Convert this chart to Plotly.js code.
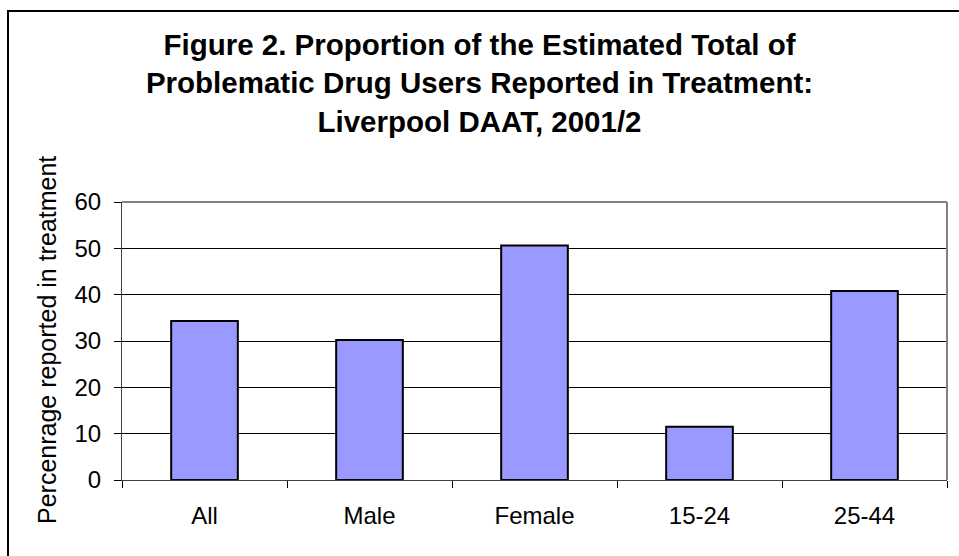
<!DOCTYPE html>
<html>
<head>
<meta charset="utf-8">
<script src="https://cdn.plot.ly/plotly-3.0.1.min.js"></script>
<style>
  html, body { margin: 0; padding: 0; background: #fff; }
  #wrap { position: relative; width: 959px; height: 556px; overflow: hidden; }
  #chart { position: absolute; left: 0; top: 0; width: 959px; height: 556px; }
  #frame { position: absolute; left: 7px; top: 10px; width: 960px; height: 560px;
           border-top: 2px solid #000; border-left: 2px solid #000; pointer-events: none; }
</style>
</head>
<body>
<div id="wrap">
  <div id="chart"></div>
  <div id="frame"></div>
</div>
<script>
const categories = ["All", "Male", "Female", "15-24", "25-44"];
const values = [34.3, 30.2, 50.6, 11.5, 40.8];
const titleLines = [
  "Figure 2. Proportion of the Estimated Total of",
  "Problematic Drug Users Reported in Treatment:",
  "Liverpool DAAT, 2001/2"
];
const yTitle = "Percenrage reported in treatment";

const FONT = "Arial, 'Liberation Sans', sans-serif";

const trace = {
  type: "bar",
  x: categories,
  y: values,
  marker: { color: "#9999FF", line: { color: "#000000", width: 2 } },
  hoverinfo: "x+y"
};

const layout = {
  width: 959,
  height: 556,
  margin: { l: 122, r: 12, t: 202, b: 76 },
  paper_bgcolor: "#ffffff",
  plot_bgcolor: "#ffffff",
  showlegend: false,
  bargap: 0.596,
  font: { family: FONT, color: "#000000", size: 24 },
  title: {
    text: titleLines.join("<br>"),
    font: { family: FONT, size: 29.5, color: "#000000", weight: "bold" },
    x: 0.5, xref: "container", xanchor: "center",
    y: 1 - 55 / 556, yref: "container", yanchor: "middle"
  },
  xaxis: {
    type: "category",
    showgrid: false,
    showline: true, linecolor: "#404040", linewidth: 1,
    ticks: "outside", tickson: "boundaries", ticklen: 7, tickcolor: "#000000", tickwidth: 1,
    ticklabelstandoff: 14,
    tickfont: { family: FONT, size: 24, color: "#000000" },
    fixedrange: true
  },
  yaxis: {
    range: [0, 60],
    dtick: 10,
    tick0: 0,
    showgrid: true, gridcolor: "#000000", gridwidth: 1,
    zeroline: false,
    showline: true, linecolor: "#404040", linewidth: 1,
    ticks: "outside", ticklen: 7, tickcolor: "#000000", tickwidth: 1,
    ticklabelstandoff: 8,
    tickfont: { family: FONT, size: 24, color: "#000000" },
    fixedrange: true
  },
  shapes: [
    { type: "line", xref: "paper", yref: "paper", x0: 0, x1: 1, y0: 1, y1: 1,
      line: { color: "#808080", width: 2 } },
    { type: "line", xref: "paper", yref: "paper", x0: 1, x1: 1, y0: 0, y1: 1,
      line: { color: "#808080", width: 2 } }
  ],
  annotations: [
    { text: yTitle, xref: "paper", yref: "paper",
      x: (47 - 122) / 825, y: (480 - 340) / 278,
      xanchor: "center", yanchor: "middle", textangle: -90, showarrow: false,
      font: { family: FONT, size: 25, color: "#000000" } }
  ]
};

Plotly.newPlot("chart", [trace], layout, { displayModeBar: false, staticPlot: true });
</script>
</body>
</html>
